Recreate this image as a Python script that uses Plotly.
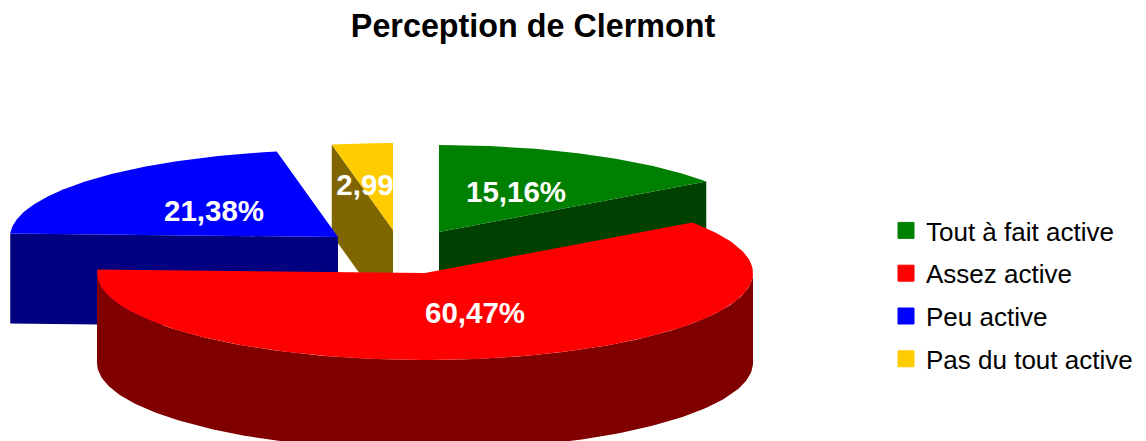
import numpy as np
import plotly.graph_objects as go

categories = ["Tout à fait active", "Assez active", "Peu active", "Pas du tout active"]
values = [15.16, 60.47, 21.38, 2.99]
labels = ["15,16%", "60,47%", "21,38%", "2,99"]
top_colors = ["#008000", "#FF0000", "#0000FF", "#FFCC00"]
wall_colors = ["#004000", "#800000", "#000080", "#806600"]
# exploded apex of each slice on the page, pie look
apex_x = [439, 425, 338, 393]
apex_y = [232, 273, 237, 230]
label_x = [516, 475, 214, 365]
label_y = [195, 316, 214, 188]
draw_order = [3, 0, 2, 1]
RX, RY, DEPTH = 328, 87, 90

W, H = 1146, 441


def rim(ax, ay, deg):
    t = np.radians(deg)
    return ax + RX * np.sin(t), ay - RY * np.cos(t)


def poly(fig, xs, ys, color):
    fig.add_trace(go.Scatter(
        x=list(xs) + [xs[0]], y=list(ys) + [ys[0]], mode="lines", fill="toself",
        fillcolor=color, line=dict(width=0), hoverinfo="skip", showlegend=False))


def side(fig, ax, ay, deg, color):
    rx, ry = rim(ax, ay, deg)
    poly(fig, [ax, rx, rx, ax], [ay, ry, ry + DEPTH, ay + DEPTH], color)


fig = go.Figure()
edges = np.cumsum([0] + values) / sum(values) * 360

for i in draw_order:
    a0, a1 = edges[i], edges[i + 1]
    ax, ay = apex_x[i], apex_y[i]
    # cut faces turned towards the viewer
    if np.sin(np.radians(a0)) < -1e-6:
        side(fig, ax, ay, a0, wall_colors[i])
    if np.sin(np.radians(a1)) > 1e-6:
        side(fig, ax, ay, a1, wall_colors[i])
    # outer wall on the front half
    lo, hi = max(a0, 90), min(a1, 270)
    if hi > lo:
        th = np.linspace(lo, hi, 160)
        rx, ry = rim(ax, ay, th)
        poly(fig, np.r_[rx, rx[::-1]], np.r_[ry, ry[::-1] + DEPTH], wall_colors[i])
    # top face
    th = np.linspace(a0, a1, 160)
    rx, ry = rim(ax, ay, th)
    poly(fig, np.r_[ax, rx], np.r_[ay, ry], top_colors[i])

# value labels
fig.add_trace(go.Scatter(
    x=label_x, y=label_y, mode="text", text=labels, hoverinfo="skip", showlegend=False,
    textposition="middle center",
    textfont=dict(family="Liberation Sans", size=29.5, color="white", weight="bold")))

# legend entries
for name, color in zip(categories, top_colors):
    fig.add_trace(go.Scatter(
        x=[None], y=[None], mode="markers", name=name, legendgroup=name,
        marker=dict(symbol="square", size=16, color=color, line=dict(width=1, color=color))))

fig.update_layout(
    width=W, height=H, margin=dict(l=0, r=0, t=0, b=0),
    paper_bgcolor="white", plot_bgcolor="white",
    xaxis=dict(range=[0, W], visible=False, fixedrange=True),
    yaxis=dict(range=[H, 0], visible=False, fixedrange=True),
    title=dict(text="<b>Perception de Clermont</b>", x=533 / W, y=1 - 26 / H,
               xanchor="center", yanchor="middle",
               font=dict(family="Liberation Sans", size=32.3, color="black")),
    legend=dict(x=886 / W, y=1 - 207 / H, xanchor="left", yanchor="top",
                bgcolor="rgba(0,0,0,0)", tracegroupgap=6, itemsizing="trace",
                font=dict(family="Liberation Sans", size=26, color="black")),
)
fig.write_html("out.html", config=dict(displayModeBar=False),
               post_script="document.body.style.margin='0';document.documentElement.style.overflow='hidden';")
